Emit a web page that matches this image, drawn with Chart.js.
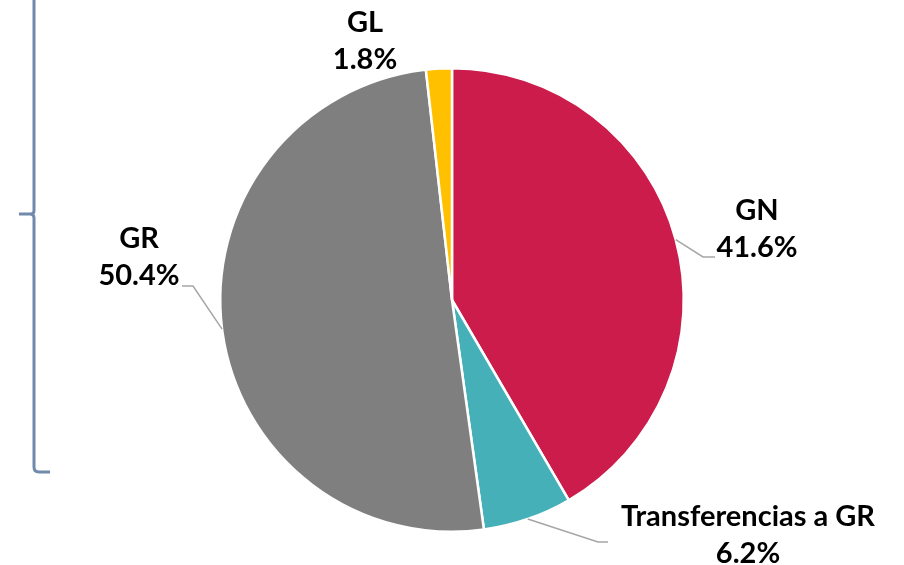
<!DOCTYPE html>
<html>
<head>
<meta charset="utf-8">
<script src="https://cdn.jsdelivr.net/npm/chart.js@4.4.0/dist/chart.umd.min.js"></script>
<style>
  html, body { margin: 0; padding: 0; background: #fff; }
  #wrap { width: 904px; height: 565px; position: relative; }
</style>
</head>
<body>
<div id="wrap"><canvas id="myChart"></canvas></div>
<script>
// Data
const labels = ['GN', 'Transferencias a GR', 'GR', 'GL'];
const shares = [41.6, 6.2, 50.4, 1.8];
const shareText = ['41.6%', '6.2%', '50.4%', '1.8%'];
const colors = ['#CB1C4B', '#45B0B8', '#7F7F7F', '#FFC000'];

// where each label sits (text centre x, first line y) and the leader elbow
const labelPos = [
  { x: 757, y: 211, elbow: [703, 257], end: [715, 257] },
  { x: 748, y: 517, elbow: [598, 542], end: [608, 542] },
  { x: 139, y: 239, elbow: [193, 286], end: [182, 286] },
  { x: 365, y: 23, elbow: null, end: null }
];

// left bracket
const bracketPlugin = {
  id: 'bracket',
  beforeDraw(chart) {
    const c = chart.ctx;
    c.save();
    c.strokeStyle = '#7189AB';
    c.lineWidth = 3;
    c.lineJoin = 'round';
    c.beginPath();
    c.moveTo(34, 0);
    c.lineTo(34, 211);
    c.quadraticCurveTo(34, 214, 30, 214);
    c.lineTo(19, 214);
    c.moveTo(30, 214);
    c.quadraticCurveTo(34, 214, 34, 218);
    c.lineTo(34, 467);
    c.quadraticCurveTo(34, 472, 39, 472);
    c.lineTo(50, 472);
    c.stroke();
    c.restore();
  }
};

// labels and leader lines
const labelPlugin = {
  id: 'pieLabels',
  afterDraw(chart) {
    const c = chart.ctx;
    const arcs = chart.getDatasetMeta(0).data;
    c.save();
    arcs.forEach((arc, i) => {
      const p = labelPos[i];
      if (p.elbow) {
        const mid = (arc.startAngle + arc.endAngle) / 2;
        const r = arc.outerRadius;
        const sx = arc.x + Math.cos(mid) * r;
        const sy = arc.y + Math.sin(mid) * r;
        c.strokeStyle = '#A6A6A6';
        c.lineWidth = 1.5;
        c.beginPath();
        c.moveTo(sx, sy);
        c.lineTo(p.elbow[0], p.elbow[1]);
        c.lineTo(p.end[0], p.end[1]);
        c.stroke();
      }
      c.fillStyle = '#000';
      c.font = 'bold 29px Lato';
      c.textAlign = 'center';
      c.textBaseline = 'middle';
      c.fillText(labels[i], p.x, p.y);
      c.fillText(shareText[i], p.x, p.y + 37);
    });
    c.restore();
  }
};

const ctx = document.getElementById('myChart');

new Chart(ctx, {
  type: 'pie',
  data: {
    labels: labels,
    datasets: [{
      data: shares,
      backgroundColor: colors,
      borderColor: '#FFFFFF',
      borderWidth: 2.5
    }]
  },
  options: {
    responsive: true,
    maintainAspectRatio: false,
    animation: false,
    layout: {
      padding: { top: 67, bottom: 32, left: 219, right: 219 }
    },
    plugins: {
      legend: { display: false },
      tooltip: { enabled: false }
    }
  },
  plugins: [bracketPlugin, labelPlugin]
});
</script>
</body>
</html>
